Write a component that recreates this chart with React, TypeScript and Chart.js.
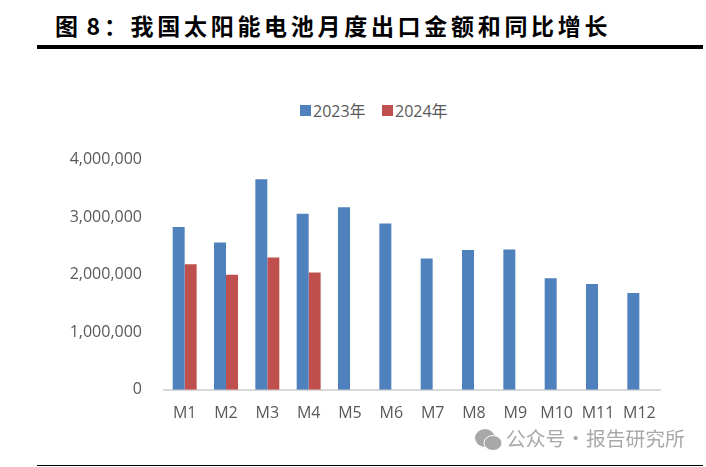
import React, { useEffect, useRef } from "react";
import { Chart, registerables } from "chart.js";

Chart.register(...registerables);

const categories = ["M1","M2","M3","M4","M5","M6","M7","M8","M9","M10","M11","M12"];
const values2023 = [2830000,2560000,3660000,3060000,3170000,2890000,2280000,2430000,2440000,1940000,1840000,1680000];
const values2024 = [2180000,2000000,2300000,2040000,null,null,null,null,null,null,null,null];
const seriesNames = ["2023年", "2024年"];
const seriesColors = ["#4f81bd", "#c0504d"];
const titleText = "图 8：我国太阳能电池月度出口金额和同比增长";
const watermarkText = "公众号 · 报告研究所";
const font = "'Open Sans','Noto Sans CJK SC',sans-serif";

export default function App() {
  const ref = useRef<HTMLCanvasElement>(null);
  useEffect(() => {
    const chart = new Chart(ref.current!, {
      type: "bar",
      data: {
        labels: categories,
        datasets: [
          { label: seriesNames[0], data: values2023, backgroundColor: seriesColors[0], categoryPercentage: 0.58, barPercentage: 1 },
          { label: seriesNames[1], data: values2024, backgroundColor: seriesColors[1], categoryPercentage: 0.58, barPercentage: 1 },
        ],
      },
      options: {
        animation: false,
        responsive: false,
        layout: { padding: { top: 30, left: 0, right: 46, bottom: 8 } },
        plugins: {
          tooltip: { enabled: false },
          legend: { display: false },
        },
        scales: {
          x: {
            grid: { display: false },
            border: { color: "#d9d9d9", width: 2 },
            ticks: { color: "#595959", font: { size: 16, family: font }, maxRotation: 0, autoSkip: false, padding: 6 },
          },
          y: {
            min: 0,
            max: 4000000,
            afterFit: (s: any) => { s.width = 120; },
            grid: { display: false, drawTicks: false },
            border: { display: false },
            ticks: {
              stepSize: 1000000,
              color: "#595959",
              padding: 22,
              font: { size: 16, family: font },
              callback: (v: any) => Number(v).toLocaleString("en-US"),
            },
          },
        },
      },
    });
    return () => chart.destroy();
  }, []);
  return (
    <div style={{ position: "fixed", left: 0, top: 0, width: 706, height: 467, background: "#fff", overflow: "hidden" }}>
      <div style={{ position: "absolute", left: 55, top: 8, fontFamily: "'Noto Sans CJK SC',sans-serif", fontWeight: 700, fontSize: 23, letterSpacing: 3.7, wordSpacing: -4, color: "#000", whiteSpace: "nowrap" }}>{titleText}</div>
      <div style={{ position: "absolute", left: 37, top: 45, width: 666, height: 4, background: "#000" }} />
      {seriesNames.map((name, i) => (
        <div key={name} style={{ position: "absolute", left: 300 + i * 82, top: 99, height: 22, display: "flex", alignItems: "center", fontFamily: font, fontSize: 16, color: "#595959", whiteSpace: "nowrap" }}>
          <span style={{ width: 11, height: 11, marginRight: 2, background: seriesColors[i], display: "inline-block" }} />
          {name}
        </div>
      ))}
      <canvas ref={ref} width={662} height={309} style={{ position: "absolute", left: 44, top: 128, display: "block" }} />
      <svg width={28} height={24} style={{ position: "absolute", left: 475, top: 428 }}>
        <ellipse cx={10} cy={10} rx={10} ry={9} fill="#a8a8a8" />
        <ellipse cx={18} cy={15} rx={9} ry={7.5} fill="#a8a8a8" stroke="#fff" strokeWidth={1} />
      </svg>
      <div style={{ position: "absolute", left: 506, top: 423, fontFamily: "'Noto Sans CJK SC',sans-serif", fontSize: 19.8, wordSpacing: -4, color: "#a8a8a8", whiteSpace: "nowrap" }}>{watermarkText}</div>
      <div style={{ position: "absolute", left: 37, top: 465, width: 666, height: 1, background: "#000" }} />
    </div>
  );
}
